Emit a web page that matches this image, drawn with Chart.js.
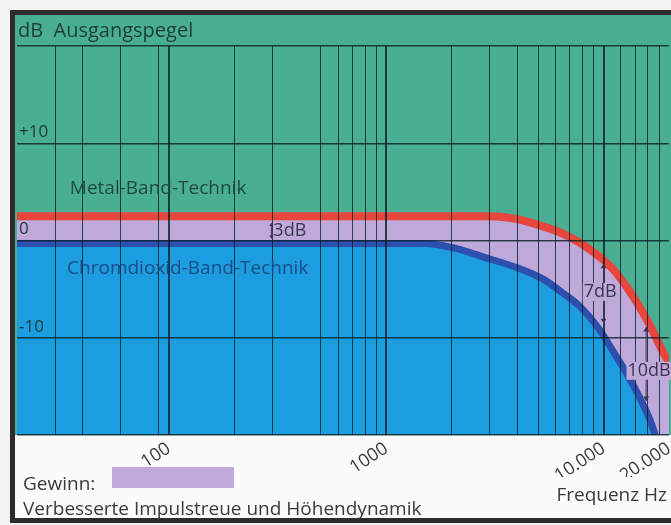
<!DOCTYPE html>
<html>
<head>
<meta charset="utf-8">
<script src="https://cdn.jsdelivr.net/npm/chart.js@4.4.1/dist/chart.umd.min.js"></script>
<style>
  body { margin: 0; background: #f3f3f1; }
  canvas { display: block; }
</style>
</head>
<body>
<canvas id="chart-pegel" width="671" height="525"></canvas>
<script>
// ---------------------------------------------------- DATEN ----------------------------------------------------
const metalFreq = [20, 1000, 3000, 4000, 5000, 6500, 9000, 11000, 13700, 16400, 18800, 20000];
const metalDb   = [2.5, 2.5, 2.5, 2.2, 1.6, 0.7, -1.2, -2.9, -5.8, -8.8, -11.5, -12.5];

const chromFreq = [20, 1000, 1500, 2000, 3000, 4000, 5300, 6400, 7800, 9600, 11000, 12800, 14700, 16400, 17300];
const chromDb   = [-0.3, -0.3, -0.3, -0.7, -1.9, -2.8, -4.0, -5.3, -6.8, -9.2, -11.3, -13.7, -16.2, -18.5, -20];

const seriesNames = ['Metal-Band-Technik', 'Chromdioxid-Band-Technik'];
const seriesNameFreq = [35, 34];
const seriesNameDb = [5.3, -2.9];

// Frequenz-Gitter (wie im Original, nicht ganz regelmäßig)
const gridFreqs = [30, 40, 60, 90, 100, 200, 300, 500, 600, 700, 800, 900, 1000,
                   2000, 3000, 4000, 5000, 6000, 7000, 8000, 9000, 10000,
                   12000, 14000, 16000, 18000, 20000];
const decadeFreqs = [100, 1000, 10000];
const freqLabelValues = [100, 1000, 10000, 20000];
const freqLabelTexts = ['100', '1000', '10.000', '20.000'];

const dbTicks = [-20, -10, 0, 10, 20];
const dbTickLabels = ['', '-10', '0', '+10', ''];

// Pegel-Differenzen
const diffTexts = ['3dB', '7dB', '10dB'];
const diffTextFreq = [360, 9650, 16200];
const diffTextDb = [1.0, -5.3, -13.4];
const diffArrowFreq = [296, 10000, 15700];
const diffArrowTop = [1.8, -2.4, -8.9];
const diffArrowBottom = [0.2, -8.5, -16.5];

const FONT = "'Open Sans', sans-serif";
const GREEN = '#4aae93';
const LILA = '#bea9da';
const GRID = 'rgba(8,30,38,0.8)';

// ---------------------------------------------------- PLUGINS ----------------------------------------------------
const rahmenPlugin = {
    id: 'rahmen',
    beforeDraw(chart) {
        const ctx = chart.ctx;
        const a = chart.chartArea;
        const left = a.left - 2, top = a.top - 31, bottom = chart.height - 7;
        ctx.save();
        ctx.fillStyle = '#f3f3f1';
        ctx.fillRect(0, 0, chart.width, chart.height);
        ctx.fillStyle = '#fbfbfa';
        ctx.fillRect(left, top, chart.width - left, bottom - top);
        ctx.fillStyle = GREEN;
        ctx.fillRect(left, top, chart.width - left, a.bottom - top);
        // dunkler Rahmen
        ctx.strokeStyle = '#2d2b2b';
        ctx.lineWidth = 5;
        ctx.strokeRect(left - 2.5, top - 2.5, chart.width + 20, bottom - top + 5);
        // Titel
        ctx.fillStyle = '#1d4036';
        ctx.font = '20px ' + FONT;
        ctx.textBaseline = 'middle';
        ctx.textAlign = 'left';
        ctx.fillText('dB  Ausgangspegel', a.left + 1, top + 16);
        ctx.restore();
    }
};

function arrowHead(ctx, x, y, dir, s) {
    ctx.beginPath();
    ctx.moveTo(x, y);
    ctx.lineTo(x - s, y + dir * s * 1.5);
    ctx.lineTo(x + s, y + dir * s * 1.5);
    ctx.closePath();
    ctx.fill();
}

const textPlugin = {
    id: 'texte',
    afterDraw(chart) {
        const ctx = chart.ctx;
        const xs = chart.scales.x, ys = chart.scales.y;
        const a = chart.chartArea;
        ctx.save();
        ctx.textBaseline = 'middle';
        // Serien-Namen
        ctx.font = '19px ' + FONT;
        ctx.textAlign = 'left';
        ctx.fillStyle = '#1f4a42';
        ctx.fillText(seriesNames[0], xs.getPixelForValue(seriesNameFreq[0]), ys.getPixelForValue(seriesNameDb[0]));
        ctx.fillStyle = '#1b4c86';
        ctx.fillText(seriesNames[1], xs.getPixelForValue(seriesNameFreq[1]), ys.getPixelForValue(seriesNameDb[1]));

        // Differenz-Pfeile
        ctx.fillStyle = '#3b3550';
        ctx.strokeStyle = '#3b3550';
        ctx.lineWidth = 1;
        for (let i = 0; i < diffTexts.length; i++) {
            const x = xs.getPixelForValue(diffArrowFreq[i]);
            const yt = ys.getPixelForValue(diffArrowTop[i]);
            const yb = ys.getPixelForValue(diffArrowBottom[i]);
            const s = i === 0 ? 2 : 3;
            arrowHead(ctx, x, yt, 1, s);
            arrowHead(ctx, x, yb, -1, s);
            ctx.beginPath();
            ctx.moveTo(x, yt);
            ctx.lineTo(x, yb);
            ctx.stroke();
        }
        ctx.font = '18px ' + FONT;
        ctx.textAlign = 'center';
        for (let i = 0; i < diffTexts.length; i++) {
            const x = xs.getPixelForValue(diffTextFreq[i]);
            const y = ys.getPixelForValue(diffTextDb[i]);
            const w = ctx.measureText(diffTexts[i]).width;
            if (i > 0) {
                ctx.fillStyle = LILA;
                ctx.fillRect(x - w / 2 - 1, y - 9, w + 2, 18);
            }
            ctx.fillStyle = '#3b3550';
            ctx.fillText(diffTexts[i], x, y);
        }

        // Legende unten
        ctx.fillStyle = '#3a3a3a';
        ctx.textAlign = 'left';
        ctx.font = '19px ' + FONT;
        ctx.fillText('Gewinn:', a.left + 6, a.bottom + 50);
        ctx.fillText('Verbesserte Impulstreue und Höhendynamik', a.left + 6, a.bottom + 75);
        ctx.fillStyle = LILA;
        ctx.fillRect(a.left + 95, a.bottom + 32, 122, 21);
        ctx.fillStyle = '#3a3a3a';
        ctx.textAlign = 'right';
        ctx.fillText('Frequenz Hz', a.right - 2, a.bottom + 61);
        ctx.restore();
    }
};

// ---------------------------------------------------- CHART ----------------------------------------------------
const ctxPegel = document.getElementById('chart-pegel').getContext('2d');
const chart_pegel = new Chart(ctxPegel, {
    type: 'line',
    data: {
        datasets: [{
            label: seriesNames[1],
            data: chromFreq.map((f, i) => ({ x: f, y: chromDb[i] })),
            borderColor: '#2d4fae',
            backgroundColor: '#1c9ddf',
            borderWidth: 7,
            fill: 'start',
            pointRadius: 0,
            cubicInterpolationMode: 'monotone'
        }, {
            label: seriesNames[0],
            data: metalFreq.map((f, i) => ({ x: f, y: metalDb[i] })),
            borderColor: '#e8453d',
            backgroundColor: LILA,
            borderWidth: 8,
            fill: 'start',
            pointRadius: 0,
            cubicInterpolationMode: 'monotone'
        }]
    },
    options: {
        responsive: false,
        animation: false,
        layout: { padding: { left: 13, top: 46, right: 2, bottom: 48 } },
        plugins: {
            legend: { display: false },
            tooltip: { enabled: false }
        },
        scales: {
            x: {
                type: 'logarithmic',
                min: 20,
                max: 20000,
                border: { display: false },
                afterBuildTicks: (scale) => {
                    scale.ticks = gridFreqs.map(v => ({ value: v }));
                },
                afterFit: (scale) => {
                    scale.paddingLeft = 0;
                    scale.paddingRight = 0;
                    scale.height = 42;
                },
                grid: {
                    z: 1,
                    drawTicks: false,
                    color: (c) => c.tick && c.tick.value === 20000 ? 'rgba(0,0,0,0)' : GRID,
                    lineWidth: (c) => c.tick && decadeFreqs.includes(c.tick.value) ? 2 : 1
                },
                ticks: {
                    z: 1,
                    autoSkip: false,
                    minRotation: 33,
                    maxRotation: 33,
                    padding: 3,
                    color: '#3a3a3a',
                    font: { family: FONT, size: 18 },
                    callback: (v) => {
                        const k = freqLabelValues.indexOf(v);
                        return k >= 0 ? freqLabelTexts[k] : '';
                    }
                }
            },
            y: {
                min: -20,
                max: 20,
                border: { display: false },
                afterBuildTicks: (scale) => {
                    scale.ticks = dbTicks.map(v => ({ value: v }));
                },
                grid: {
                    z: 1,
                    drawTicks: false,
                    color: GRID,
                    lineWidth: 1.5
                },
                ticks: {
                    z: 1,
                    mirror: true,
                    padding: 2,
                    labelOffset: -11,
                    color: '#1c3a38',
                    font: { family: FONT, size: 17 },
                    callback: (v) => dbTickLabels[dbTicks.indexOf(v)]
                }
            }
        }
    },
    plugins: [rahmenPlugin, textPlugin]
});
</script>
</body>
</html>
